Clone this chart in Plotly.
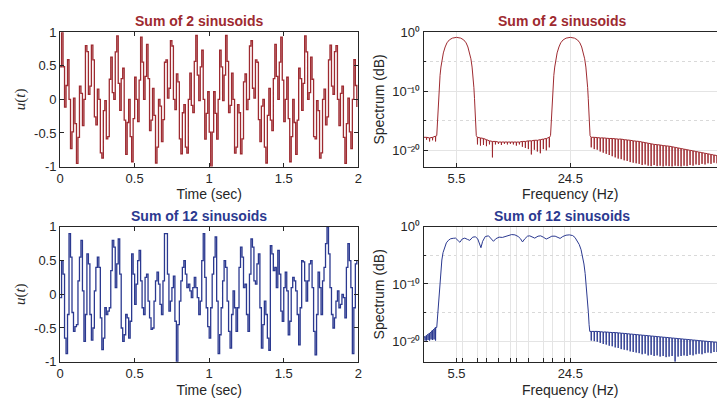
import numpy as np
import plotly.graph_objects as go

W, H = 721, 406
TS = 0.01  # sample time (s)

# ---- time-domain signals (held values, one per sample) ----
U_2SINE = [0.486,
    1.0, 0.486, -0.114, 0.207, 0.590, 0.0, -0.732, -0.484, 0.019, -0.36,
    -0.951, -0.565, 0.197, 0.09, -0.39, 0.0, 0.80, 0.71, 0.077, 0.199,
    0.809, 0.588, -0.26, -0.378, 0.152, 0.0, -0.795, -0.873, -0.166, -0.018,
    -0.588, -0.553, 0.30, 0.629, 0.10, 0.0, 0.709, 0.947, 0.238, -0.164,
    0.309, 0.464, -0.308, -0.818, -0.344, 0.0, -0.554, -0.928, -0.287, 0.33,
    0.0,
    -0.33, 0.287, 0.928, 0.554, 0.0, 0.344, 0.818, 0.308, -0.464, -0.309,
    0.164, -0.238, -0.947, -0.709, 0.0, -0.10, -0.629, -0.30, 0.553, 0.588,
    0.018, 0.166, 0.873, 0.795, 0.0, -0.152, 0.378, 0.26, -0.588, -0.809,
    -0.199, -0.077, -0.71, -0.80, 0.0, 0.39, -0.09, -0.197, 0.565, 0.951,
    0.36, -0.019, 0.484, 0.732, 0.0, -0.59, -0.207, 0.114, -0.486, -1.0,
    -0.486, 0.114, -0.207, -0.590, 0.0, 0.732, 0.484, -0.019, 0.36, 0.951,
    0.565, -0.197, -0.09, 0.39, 0.0, -0.80, -0.71, -0.077, -0.199, -0.809,
    -0.588, 0.26, 0.378, -0.152, 0.0, 0.795, 0.873, 0.166, 0.018, 0.588,
    0.553, -0.30, -0.629, -0.10, 0.0, -0.709, -0.947, -0.238, 0.164, -0.309,
    -0.464, 0.308, 0.818, 0.344, 0.0, 0.554, 0.928, 0.287, -0.33, 0.0,
    0.33, -0.287, -0.928, -0.554, 0.0, -0.344, -0.818, -0.308, 0.464, 0.309,
    -0.164, 0.238, 0.947, 0.709, 0.0, 0.10, 0.629, 0.30, -0.553, -0.588,
    -0.018, -0.166, -0.873, -0.795, 0.0, 0.152, -0.378, -0.26, 0.588, 0.809,
    0.199, 0.077, 0.71, 0.80, 0.0, -0.39, 0.09, 0.197, -0.565, -0.951,
    -0.36, 0.019, -0.484, -0.732, 0.0, 0.590, 0.207, -0.114]

U_12SINE = [
    -0.05, 0.5, 0.3, -0.65, -0.88, -0.3, 0.9, 0.55, -0.27, -0.55,
    -0.48, -0.45, 0.2, 0.55, 0.8, 0.05, -0.7, -0.3, 0.6, 0.45,
    -0.3, -0.68, -0.5, 0.05, 0.4, 0.55, 0.4, -0.35, -0.82, -0.65,
    -0.2, -0.3, -0.25, -0.2, 0.35, 0.8, 0.7, 0.1, 0.45, 0.82,
    0.3, -0.5, -0.7, -0.6, -0.3, -0.35, -0.65, -0.4, 0.6, 0.3,
    -0.15, 0.15, 0.5, 0.65, 0.2, -0.2, -0.3, 0.25, 0.3, -0.1,
    -0.35, -0.52, -0.5, -0.1, 0.2, 0.33, 0.15, -0.15, -0.3, 0.2,
    0.9, 0.9, 0.3, -0.25, -0.1, 0.1, 0.27, -0.4, -1.0, -0.45,
    -0.1, 0.2, 0.4, 0.5, 0.3, 0.1, 0.15, 0.05, -0.05, 0.1,
    0.25, 0.1, -0.05, -0.3, -0.1, 0.5, 0.9, 0.25, -0.2, -0.48,
    -0.65, -0.2, 0.3, 0.55, 0.85, -0.1, -0.88, -0.6, -0.2, 0.2,
    0.5, 0.4, -0.1, -0.55, -0.8, -0.3, 0.05, -0.2, -0.55, -0.2,
    0.4, 0.7, 0.55, 0.1, 0.15, -0.3, -0.55, 0.3, 0.82, 0.7,
    0.2, 0.15, 0.45, 0.6, -0.2, -0.8, -0.45, -0.1, -0.3, -0.65,
    -0.83, 0.72, 0.6, 0.35, 0.4, 0.1, 0.65, 0.3, -0.25, -0.4,
    0.1, 0.33, 0.05, -0.6, -0.4, 0.1, 0.25, 0.2, 0.05, -0.3,
    -0.75, -0.2, 0.5, 0.48, 0.2, -0.1, 0.2, 0.45, 0.5, 0.1,
    -0.55, -0.9, -0.3, 0.33, 0.1, -0.3, 0.2, 0.4, 0.75, 1.0,
    0.6, 0.1, -0.3, -0.5, -0.35, -0.1, 0.05, -0.2, -0.15, 0.0,
    -0.05, -0.35, 0.4, 0.75, 0.5, 0.1, -0.88, -0.2, 0.45, 0.5]

T_TICKS = [0, 0.5, 1, 1.5, 2]
T_TICKTEXT = ['0', '0.5', '1', '1.5', '2']
U_TICKS = [-1, -0.5, 0, 0.5, 1]
U_TICKTEXT = ['-1', '-0.5', '0', '0.5', '1']

# ---- spectra (log10 of spectrum) ----
FREQS_2 = [5.5, 24.5]
FREQS_12 = [5.5, 6.5, 9.0, 10.5, 12.5, 14.5, 15.5, 17.5, 20.0, 21.5, 23.5, 24.5]
FREQ_TICKTEXT = ['5.5', '24.5']
SPEC_TICKS = [1e0, 1e-10, 1e-20]
SPEC_TICKTEXT = ['10\u2070', '10\u207b\u00b9\u2070', '10\u207b\u00b2\u2070']
SPEC_MINOR = [1e-5, 1e-15]

# 2-sine: floor start, notches, lobe outline (offset from each sine)
S2_START = -17.8
S2_LEFT_F = [0.5, 1.0, 1.5, 2.0]
S2_LEFT_TOP = [-17.8, -17.9, -17.8, -17.6]
S2_LEFT_DIP = [-18.2, -18.5, -18.3, -18.5]
LOBE_DF = [-3.3, -3.2, -3.1, -3.0, -2.9, -2.75, -2.6, -2.4, -2.2, -1.9, -1.6, -1.2, -0.7, 0.0,
           0.7, 1.2, 1.6, 1.9, 2.2, 2.4, 2.6, 2.75, 2.9, 3.0, 3.1, 3.2, 3.3]
LOBE_V = [-17.5, -15.5, -13.2, -11.2, -9.4, -7.3, -5.9, -4.5, -3.5, -2.5, -1.8, -1.3, -1.0, -0.87,
          -1.0, -1.3, -1.8, -2.5, -3.5, -4.5, -5.9, -7.3, -9.4, -11.2, -13.2, -15.5, -17.5]
S2_MID_F = [9.0, 9.5, 10.0, 10.5, 11.0, 11.5, 12.0, 12.5, 13.0, 13.5, 14.0, 14.5, 15.0,
            15.5, 16.0, 16.5, 17.0, 17.5, 18.0, 18.5, 19.0, 19.5, 20.0, 20.5, 21.0]
S2_MID_TOP = [-17.8, -17.9, -18.0, -18.2, -18.4, -18.5, -18.5, -18.6, -18.6, -18.6, -18.6, -18.6, -18.6,
              -18.6, -18.6, -18.5, -18.5, -18.4, -18.4, -18.3, -18.3, -18.2, -18.1, -18.0, -17.8]
S2_MID_DIP = [-19.0, -19.2, -19.1, -19.3, -19.0, -21.2, -19.0, -18.9, -19.1, -18.9, -19.0, -18.9, -19.0,
              -19.2, -19.0, -19.4, -19.6, -19.8, -20.7, -19.9, -20.2, -20.5, -19.8, -20.0, -19.5]
RIGHT_F = [28.0, 28.5, 29.0, 29.5, 30.0, 30.5, 31.0, 31.5, 32.0, 32.5, 33.0, 33.5, 34.0, 34.5,
           35.0, 35.5, 36.0, 36.5, 37.0, 37.5, 38.0, 38.5, 39.0, 39.5, 40.0, 40.5, 41.0, 41.5,
           42.0, 42.5, 43.0, 43.5, 44.0, 44.5, 45.0, 45.5, 46.0, 46.5, 47.0, 47.5, 48.0, 48.5, 49.0]
S2_RIGHT_TOP = [-17.8, -17.8, -17.85, -17.9, -17.9, -17.95, -18.0, -18.0, -18.05, -18.1, -18.1, -18.2,
                -18.25, -18.3, -18.4, -18.45, -18.5, -18.6, -18.7, -18.8, -18.9, -19.0, -19.05, -19.1,
                -19.2, -19.25, -19.3, -19.4, -19.5, -19.6, -19.7, -19.8, -19.9, -20.0, -20.1, -20.2,
                -20.3, -20.4, -20.5, -20.6, -20.7, -20.8, -20.9]
S2_RIGHT_DIP = [-19.5, -19.8, -19.9, -20.2, -20.4, -20.6, -20.8, -21.0, -21.2, -21.4, -21.5, -21.7,
                -21.8, -22.0, -22.1, -22.2, -22.3, -22.5, -22.4, -22.6, -22.7, -22.5, -22.7, -22.6,
                -22.8, -22.6, -22.7, -22.8, -22.6, -22.7, -22.8, -22.6, -22.7, -22.5, -22.6, -22.4,
                -22.5, -22.3, -22.4, -22.2, -22.3, -22.1, -22.2]

# 12-sine
S12_START = -19.4
S12_LEFT_F = [0.25, 0.5, 0.75, 1.0, 1.25, 1.5, 1.75, 2.0]
S12_LEFT_TOP = [-19.2, -19.0, -18.8, -18.6, -18.4, -18.1, -17.9, -17.6]
S12_LEFT_DIP = [-19.9, -19.9, -19.8, -19.9, -19.7, -19.8, -19.7, -19.9]
S12_BAND_F = [2.2, 2.3, 2.37, 2.48, 2.59, 2.72, 2.86, 3.05, 3.25, 3.5, 3.8, 4.15, 4.52, 4.96, 5.34,
              5.78, 6.06, 6.44, 6.88, 7.32, 7.71, 8.20, 8.64, 9.03, 9.31, 9.58, 9.86, 10.30, 10.85,
              11.40, 11.67, 12.06, 12.61, 13.16, 13.60, 14.15, 14.70, 15.25, 15.80, 16.19, 16.52,
              16.91, 17.35, 17.73, 18.17, 18.56, 19.11, 19.55, 19.99, 20.48, 20.93, 21.42, 21.97,
              22.41, 22.80, 23.24, 23.79, 24.34, 24.89, 25.28, 25.61, 25.99, 26.30, 26.54, 26.78,
              26.98, 27.18, 27.37, 27.52, 27.64, 27.75]
S12_BAND_V = [-17.6, -16.0, -14.9, -13.5, -12.1, -9.8, -7.6, -5.8, -4.5, -3.5, -2.8, -2.35, -2.08, -2.0, -1.97,
              -2.42, -2.70, -2.13, -1.97, -2.19, -2.36, -1.80, -1.74, -2.08, -2.81, -3.65, -2.53, -1.69, -1.57,
              -2.25, -2.53, -2.08, -1.80, -1.85, -1.74, -1.52, -1.35, -1.40, -1.69, -2.08, -2.64,
              -2.08, -1.63, -1.57, -1.85, -1.97, -1.63, -1.57, -1.80, -2.13, -1.91, -1.63, -1.63,
              -1.85, -2.02, -1.69, -1.46, -1.40, -1.52, -1.85, -2.42, -3.09, -4.0, -5.06, -6.5,
              -8.15, -10.3, -12.64, -15.0, -17.13, -18.3]
S12_RIGHT_TOP = [-18.3, -18.3, -18.3, -18.35, -18.4, -18.4, -18.45, -18.5, -18.5, -18.55, -18.6, -18.65,
                 -18.7, -18.75, -18.8, -18.85, -18.9, -18.95, -19.0, -19.05, -19.1, -19.15, -19.2, -19.25,
                 -19.3, -19.35, -19.4, -19.45, -19.5, -19.55, -19.6, -19.65, -19.7, -19.75, -19.8, -19.85,
                 -19.9, -19.95, -20.0, -20.05, -20.1, -20.15, -20.2]
S12_RIGHT_DIP = [-19.9, -20.0, -20.1, -20.3, -20.5, -20.6, -20.8, -20.9, -21.1, -21.2, -21.4, -21.5,
                 -21.6, -21.8, -21.9, -22.0, -22.1, -22.3, -22.2, -22.5, -22.4, -22.6, -22.5, -22.7,
                 -22.6, -22.8, -22.7, -22.6, -23.6, -22.7, -22.6, -22.5, -22.6, -22.4, -22.5, -22.3,
                 -22.2, -22.3, -22.1, -22.0, -22.1, -21.9, -21.9]

RED = '#9E2A30'
BLUE = '#2B3990'
AX = '#262626'
GRID = '#e4e4e4'
FONT = 'Liberation Sans, Arial, Helvetica, sans-serif'
SERIF = 'Liberation Serif, DejaVu Serif, serif'


def notches(fs, tops, dips, w=0.03):
    xs, ys = [], []
    for f, a, b in zip(fs, tops, dips):
        xs += [f - w, f, f + w]
        ys += [a, b, a]
    return xs, ys


def stairs_xy(vals):
    t = np.arange(len(vals)) * TS
    return t, np.array(vals)


# build spectrum paths
sx2, sy2 = [0.0], [S2_START]
x_, y_ = notches(S2_LEFT_F, S2_LEFT_TOP, S2_LEFT_DIP); sx2 += x_; sy2 += y_
sx2 += [FREQS_2[0] + d for d in LOBE_DF]; sy2 += LOBE_V
x_, y_ = notches(S2_MID_F, S2_MID_TOP, S2_MID_DIP); sx2 += x_; sy2 += y_
sx2 += [FREQS_2[1] + d for d in LOBE_DF]; sy2 += LOBE_V
x_, y_ = notches(RIGHT_F, S2_RIGHT_TOP, S2_RIGHT_DIP); sx2 += x_; sy2 += y_

sx12, sy12 = [0.0], [S12_START]
x_, y_ = notches(S12_LEFT_F, S12_LEFT_TOP, S12_LEFT_DIP); sx12 += x_; sy12 += y_
sx12 += S12_BAND_F; sy12 += S12_BAND_V
x_, y_ = notches(RIGHT_F, S12_RIGHT_TOP, S12_RIGHT_DIP); sx12 += x_; sy12 += y_

fig = go.Figure()
t2, u2 = stairs_xy(U_2SINE)
t12, u12 = stairs_xy(U_12SINE)
fig.add_trace(go.Scatter(x=t2, y=u2, mode='lines', line=dict(color=RED, width=1.3, shape='hv'),
                         xaxis='x', yaxis='y', showlegend=False))
fig.add_trace(go.Scatter(x=sx2, y=10.0 ** np.array(sy2), mode='lines', line=dict(color=RED, width=1.0),
                         xaxis='x2', yaxis='y2', showlegend=False))
fig.add_trace(go.Scatter(x=t12, y=u12, mode='lines', line=dict(color=BLUE, width=1.3, shape='hv'),
                         xaxis='x3', yaxis='y3', showlegend=False))
fig.add_trace(go.Scatter(x=sx12, y=10.0 ** np.array(sy12), mode='lines', line=dict(color=BLUE, width=1.0),
                         xaxis='x4', yaxis='y4', showlegend=False))


def px(p):
    return p / W


def py(p):
    return 1 - p / H


LX = [px(56.7), px(358.3)]
RX = [px(424.3), 1.0]
TY = [py(165.7), py(26.2)]
BY = [py(368.3), py(228.3)]

tickfont = dict(family=FONT, size=13, color=AX)
base = dict(showline=True, linecolor=AX, linewidth=1, ticks='inside', ticklen=4, tickcolor=AX,
            tickwidth=0.8, tickfont=tickfont, zeroline=False)


def title(text, standoff, family=FONT, size=14):
    return dict(text=text, standoff=standoff, font=dict(family=family, size=size, color=AX))


tx = dict(base, range=[0, 2], tickvals=T_TICKS, ticktext=T_TICKTEXT, mirror='ticks', showgrid=False,
          title=title('Time (sec)', 4))
ty = dict(base, range=[-1, 1], tickvals=U_TICKS, ticktext=U_TICKTEXT, mirror='ticks', showgrid=False,
          title=title('<i>u</i>(<i>t</i>)', 4, SERIF, 15))


def fx(freqs):
    inner = freqs[1:-1]
    d = dict(base, range=[0, 49.0], tickvals=[freqs[0], freqs[-1]], ticktext=FREQ_TICKTEXT, mirror=True,
             showgrid=True, gridcolor=GRID, gridwidth=1, title=title('Frequency (Hz)', 4))
    if inner:
        d['minor'] = dict(tickvals=inner, showgrid=True, gridcolor=GRID, gridwidth=1,
                          ticks='inside', ticklen=4, tickcolor=AX, tickwidth=0.8)
    return d


def fy(lo):
    return dict(base, type='log', range=[lo, 0], tickvals=SPEC_TICKS, ticktext=SPEC_TICKTEXT,
                showgrid=True, gridcolor=GRID, gridwidth=1, mirror=False,
                title=title('Spectrum (dB)', 4),
                minor=dict(tickvals=SPEC_MINOR, showgrid=True, griddash='dot', gridcolor='#d9d9d9',
                           gridwidth=0.8, ticks='inside', ticklen=2, tickcolor=AX))


fig.update_layout(
    width=W, height=H, margin=dict(l=0, r=0, t=0, b=0),
    paper_bgcolor='white', plot_bgcolor='white',
    xaxis=dict(tx, domain=LX, anchor='y'),
    yaxis=dict(ty, domain=TY, anchor='x'),
    xaxis2=dict(fx(FREQS_2), domain=RX, anchor='y2'),
    yaxis2=dict(fy(-22.76), domain=TY, anchor='x2'),
    xaxis3=dict(tx, domain=LX, anchor='y3'),
    yaxis3=dict(ty, domain=BY, anchor='x3'),
    xaxis4=dict(fx(FREQS_12), domain=RX, anchor='y4'),
    yaxis4=dict(fy(-23.6), domain=BY, anchor='x4'),
)

ann = []


def label(text, x, y, size=14, color=AX, bold=False):
    ann.append(dict(text=('<b>%s</b>' % text) if bold else text, x=px(x), y=py(y), xref='paper',
                    yref='paper', showarrow=False, xanchor='center', yanchor='middle',
                    font=dict(family=FONT, size=size, color=color)))


label('Sum of 2 sinusoids', 197.6, 15.0, color=RED, bold=True)
label('Sum of 2 sinusoids', 565.0, 15.0, color=RED, bold=True)
label('Sum of 12 sinusoids', 196.7, 216.7, color=BLUE, bold=True)
label('Sum of 12 sinusoids', 563.8, 216.7, color=BLUE, bold=True)
fig.update_layout(annotations=ann)

fig.write_html('out.html')
